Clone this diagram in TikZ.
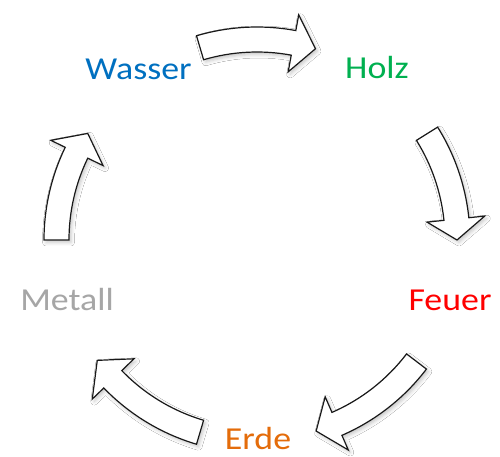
\documentclass[tikz,border=0pt]{standalone}
\usepackage{fontspec}
\setmainfont{Carlito}
\usetikzlibrary{shadows.blur}

\definecolor{wasserblue}{HTML}{0070C0}
\definecolor{holzgreen}{HTML}{00B050}
\definecolor{feuerred}{HTML}{FF0000}
\definecolor{erdeorange}{HTML}{E46C0A}
\definecolor{metallgray}{HTML}{A6A6A6}

% curved block arrow on the ring: tail angle, head base angle, tip angle
\newcommand{\ringarrow}[3]{%
  \draw[cyclearrow]
    (#1:213pt) arc[start angle=#1, end angle=#2, radius=213pt]
    -- (#2:229pt) -- (#3:200pt) -- (#2:171pt) -- (#2:188pt)
    arc[start angle=#2, end angle=#1, radius=188pt] -- cycle;}

\tikzset{
  cyclearrow/.style={draw=black!90, line width=1.2pt, fill=white,
    blur shadow={shadow xshift=2pt, shadow yshift=-2.5pt,
                 shadow blur radius=3.5pt, shadow opacity=22}},
  element/.style={anchor=base, inner sep=0pt, font=\fontsize{32}{36}\selectfont}
}

\begin{document}
\begin{tikzpicture}[x=1pt, y=1pt]
  \useasboundingbox (0,0) rectangle (500,456);
  \fill[white] (0,0) rectangle (500,456);

  % the five elements
  \node[element, text=wasserblue] (wasser) at (138.5,376.7) {\scalebox{1.12}[1]{Wasser}};
  \node[element, text=holzgreen]  (holz)   at (377,377.7)   {\scalebox{1.12}[1]{Holz}};
  \node[element, text=feuerred]   (feuer)  at (450,146)     {\scalebox{1.12}[1]{Feuer}};
  \node[element, text=erdeorange] (erde)   at (258,6.7)     {\scalebox{1.12}[1]{Erde}};
  \node[element, text=metallgray] (metall) at (67,145.5)    {\scalebox{1.12}[1]{Metall}};

  % generating cycle around the centre
  \coordinate (ring) at (257,216);
  \begin{scope}[shift={(ring)}]
    \ringarrow{106.5}{79.5}{73}
    \ringarrow{32}{6}{0}
    \ringarrow{-37.3}{-66.5}{-72.8}
    \ringarrow{-106.5}{-136}{-143}
    \ringarrow{180}{154.2}{147.8}
  \end{scope}
\end{tikzpicture}
\end{document}
